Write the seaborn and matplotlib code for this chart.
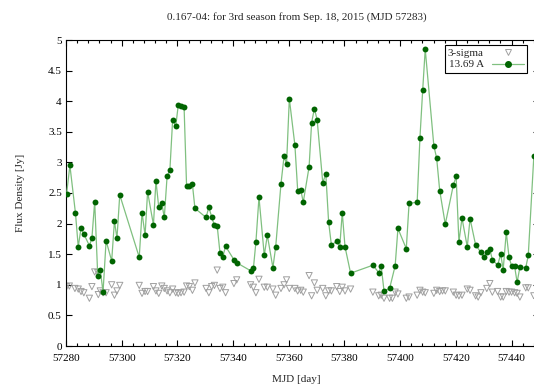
import matplotlib
matplotlib.use("Agg")
import matplotlib.pyplot as plt
from matplotlib.lines import Line2D
from matplotlib.ticker import MultipleLocator, FormatStrFormatter
import seaborn as sns
import pandas as pd

# 13.69 A flux density light curve
mjd = [57280.2, 57281.4, 57283.4, 57284.4, 57285.4, 57286.4, 57288.4, 57289.3, 57290.3, 57291.4,
       57292.3, 57293.3, 57294.4, 57296.4, 57297.4, 57298.3, 57299.3,
       57306.3, 57307.3, 57308.4, 57309.3, 57311.4, 57312.3, 57313.3, 57314.4, 57315.3, 57316.3, 57317.3,
       57318.3, 57319.4, 57320.3, 57321.3, 57322.4, 57323.3, 57324.3, 57325.4, 57326.3,
       57330.3, 57331.3, 57332.3, 57333.3, 57334.3, 57335.3, 57336.3, 57337.3, 57340.3, 57341.3,
       57346.3, 57347.3, 57348.2, 57349.3, 57351.2, 57352.3, 57354.3, 57355.3,
       57357.2, 57358.3, 57359.2, 57360.2, 57362.2, 57363.2, 57364.3, 57365.2,
       57367.3, 57368.2, 57369.2, 57370.2, 57372.2, 57373.3, 57374.3, 57375.3, 57377.2, 57378.3,
       57379.2, 57380.2, 57382.2,
       57390.2, 57392.3, 57393.2, 57394.2, 57396.2, 57398.2, 57399.2, 57402.2, 57403.2,
       57406.1, 57407.1, 57408.1, 57409.0,
       57412.1, 57413.1, 57414.2, 57416.2, 57419.1, 57420.1, 57421.1, 57422.2, 57424.1, 57425.1, 57427.1,
       57429.0, 57430.1, 57431.1, 57432.2, 57433.1, 57435.0, 57436.1, 57437.0, 57438.1, 57439.1,
       57440.0, 57441.1, 57442.0, 57443.0, 57445.1, 57446.0, 57448.0]
flux = [2.48, 2.95, 2.17, 1.62, 1.93, 1.83, 1.64, 1.76, 2.36, 1.15,
        1.25, 0.88, 1.72, 1.39, 2.04, 1.76, 2.47,
        1.45, 2.18, 1.81, 2.52, 1.98, 2.70, 2.27, 2.33, 2.10, 2.77, 2.87,
        3.70, 3.59, 3.93, 3.92, 3.91, 2.61, 2.61, 2.64, 2.25,
        2.10, 2.27, 2.11, 1.97, 1.96, 1.52, 1.46, 1.63, 1.41, 1.36,
        1.23, 1.27, 1.70, 2.43, 1.48, 1.81, 1.28, 1.62,
        2.65, 3.10, 2.97, 4.04, 3.28, 2.54, 2.55, 2.35,
        2.93, 3.65, 3.88, 3.69, 2.67, 2.81, 2.03, 1.65, 1.71, 1.62,
        2.18, 1.62, 1.19,
        1.32, 1.20, 1.30, 0.90, 0.94, 1.31, 1.92, 1.59, 2.33,
        2.35, 3.40, 4.19, 4.85,
        3.27, 3.07, 2.54, 1.99, 2.63, 2.77, 1.70, 2.09, 1.62, 2.08, 1.65,
        1.53, 1.45, 1.53, 1.58, 1.41, 1.32, 1.50, 1.25, 1.86, 1.45,
        1.31, 1.30, 1.04, 1.29, 1.28, 1.48, 3.10]

# 3-sigma upper limits
sigma_mjd = [57280.2, 57281.2, 57283.2, 57284.4, 57285.4, 57286.4, 57288.4, 57289.3, 57290.3, 57291.4,
             57291.6, 57292.3, 57293.3, 57294.4, 57296.4, 57297.4, 57298.3, 57299.3,
             57306.3, 57307.3, 57308.4, 57309.3, 57311.4, 57312.3, 57313.3, 57314.4, 57315.3, 57316.3,
             57317.3, 57318.3, 57319.4, 57320.3, 57321.3, 57322.4, 57323.3, 57324.3, 57325.4, 57326.3,
             57330.3, 57331.3, 57332.3, 57333.3, 57334.3, 57335.3, 57336.3, 57337.3, 57340.3, 57341.3,
             57346.3, 57347.3, 57348.2, 57349.3, 57351.2, 57352.3, 57354.3, 57355.3,
             57357.2, 57358.3, 57359.2, 57360.2, 57362.2, 57363.2, 57364.3, 57365.2,
             57367.3, 57368.2, 57369.2, 57370.2, 57372.2, 57373.3, 57374.3, 57375.3, 57377.2, 57378.3,
             57379.2, 57380.2, 57382.2,
             57390.2, 57392.3, 57393.2, 57394.2, 57396.2, 57397.2, 57398.2, 57399.2, 57402.2, 57403.2,
             57406.1, 57407.1, 57408.1, 57409.0,
             57412.1, 57413.1, 57414.2, 57415.2, 57416.2, 57419.1, 57420.1, 57421.1, 57422.2, 57424.1,
             57425.1, 57427.1, 57428.0, 57429.0, 57431.1, 57432.2, 57433.1, 57435.0, 57436.1, 57437.0,
             57438.1, 57439.1, 57440.0, 57441.1, 57442.0, 57443.0, 57445.1, 57446.0, 57448.0]
sigma_flux = [0.97, 0.98, 0.94, 0.93, 0.89, 0.87, 0.78, 0.97, 1.21, 1.20,
              0.84, 0.90, 0.87, 0.87, 1.00, 0.83, 0.90, 0.99,
              0.99, 0.86, 0.89, 0.89, 0.97, 0.90, 0.86, 0.98, 0.94, 0.90,
              0.87, 0.93, 0.87, 0.86, 0.87, 0.88, 0.98, 0.97, 0.91, 1.03,
              0.94, 0.87, 0.97, 0.99, 1.24, 0.94, 0.96, 0.87, 1.02, 1.08,
              1.00, 0.96, 0.87, 1.09, 0.96, 0.96, 0.93, 0.83,
              0.94, 1.00, 1.08, 0.94, 0.94, 0.90, 0.91, 0.88,
              1.15, 0.82, 1.03, 0.91, 0.94, 0.82, 0.90, 0.90, 0.97, 0.89,
              0.96, 0.90, 0.93,
              0.88, 0.82, 0.83, 0.78, 0.78, 0.78, 0.88, 0.85, 0.78, 0.80,
              0.83, 0.91, 0.88, 0.87,
              0.86, 0.91, 0.89, 0.90, 0.90, 0.88, 0.83, 0.82, 0.83, 0.93,
              0.91, 0.82, 0.80, 0.87, 0.94, 1.02, 0.88, 0.89, 0.80, 0.80,
              0.89, 0.88, 0.88, 0.87, 0.86, 0.80, 0.95, 0.95, 0.82]

title = "0.167-04: for 3rd season from Sep. 18, 2015 (MJD 57283)"

sns.set_theme(style="ticks")
plt.rcParams["font.family"] = ["Liberation Serif", "DejaVu Serif"]
plt.rcParams["font.size"] = 8

df = pd.DataFrame({"mjd": mjd, "flux": flux})
sig = pd.DataFrame({"mjd": sigma_mjd, "flux": sigma_flux})

line_col = "#80c080"
dot_col = "#006400"
tri_col = "#a0a0a0"

fig = plt.figure(figsize=(5.34, 3.87), dpi=100)
ax = fig.add_axes([66 / 534, 41 / 387, (539.4 - 66) / 534, 306 / 387])

sns.scatterplot(data=sig, x="mjd", y="flux", marker="v", s=20, facecolor="none",
                edgecolor=tri_col, linewidth=0.7, ax=ax, legend=False, zorder=2)
sns.lineplot(data=df, x="mjd", y="flux", sort=False, estimator=None, color=line_col,
             linewidth=0.9, ax=ax, legend=False, zorder=3)
sns.scatterplot(data=df, x="mjd", y="flux", color=dot_col, s=18, linewidth=0,
                ax=ax, legend=False, zorder=4)

ax.set_xlim(57280, 57450)
ax.set_ylim(0, 5)
ax.xaxis.set_major_locator(MultipleLocator(20))
ax.xaxis.set_minor_locator(MultipleLocator(4))
ax.xaxis.set_major_formatter(FormatStrFormatter("%d"))
ax.yaxis.set_major_locator(MultipleLocator(0.5))
ax.yaxis.set_major_formatter(FormatStrFormatter("%g"))
ax.tick_params(which="both", direction="in", top=True, right=True, colors="black", labelsize=8)
ax.tick_params(axis="x", which="major", length=4, width=0.8, pad=6)
ax.tick_params(axis="x", which="minor", length=2.2, width=0.8)
ax.tick_params(axis="y", which="major", length=4, width=0.8, pad=3)
for s in ax.spines.values():
    s.set_color("black")
    s.set_linewidth(0.8)
ax.set_xlabel("")
ax.set_ylabel("")

fig.text(296.7 / 534, (387 - 17.5) / 387, title, ha="center", va="center", fontsize=8)
fig.text(296.7 / 534, (387 - 380) / 387, "MJD [day]", ha="center", va="center", fontsize=8)
fig.text(21 / 534, (387 - 193) / 387, "Flux Density [Jy]", ha="center", va="center",
         rotation=90, fontsize=8)

h1 = Line2D([], [], ls="none", marker="v", mfc="none", mec=tri_col, ms=4.3, mew=0.7)
h2 = Line2D([], [], color=line_col, lw=0.9, marker="o", mfc=dot_col, mec=dot_col, ms=4)
leg = ax.legend([h1, h2], ["3-sigma", "13.69 A"], loc="upper right",
                bbox_to_anchor=(0.974, 0.984), borderaxespad=0, markerfirst=False,
                fancybox=False, framealpha=1, edgecolor="black", fontsize=8,
                handlelength=2.9, handletextpad=0.7, labelspacing=0.15,
                borderpad=0.3)
leg.get_frame().set_linewidth(0.8)

fig.savefig("out.png", dpi=100)
